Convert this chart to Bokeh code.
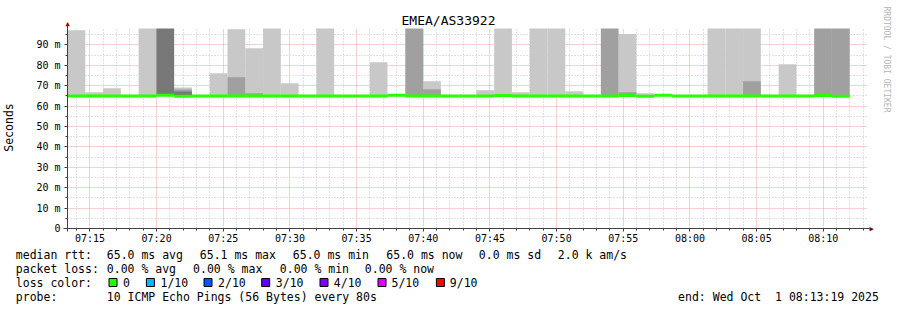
import pandas as pd
from bokeh.plotting import figure
from bokeh.models import Range1d, FixedTicker, DatetimeTickFormatter, Grid
from bokeh.embed import file_html
from bokeh.resources import INLINE
from bokeh.core.properties import value

# ---------------- data ----------------
title_text = "EMEA/AS33922"
day = "2025-10-01"
start_time = "07:13:19"
end_time = "08:13:19"
step_seconds = 80
n_steps = 45

# median rtt per 80 s step (ms); None = no data
median_ms = [65.0, 65.0, 65.0, 65.0, 65.0, 65.3, 64.8, 65.0, 65.0, 65.0,
             65.0, 65.0, 65.0, 65.0, 65.0, 65.0, 65.0, 65.0, 65.3, 65.0,
             65.0, 65.0, 65.0, 65.0, 65.2, 65.0, 65.0, 65.0, 65.0, 65.0,
             65.0, 65.2, 64.8, 65.3, 65.0, 65.0, 65.0, 65.0, 65.0, 65.0,
             65.0, 65.0, 65.2, 64.8, None]
# smoke (ping spread) tops per step, three shades (ms); None = no band
smoke_outer = [97.2, 66.8, 68.8, None, 98.2, None, 69.1, None, 76.1, 97.7,
               88.4, 98.2, 71.2, None, 98.2, None, None, 81.5, None, None,
               72.2, None, None, 67.8, 98.2, 66.8, 98.2, 98.2, 67.3, None,
               None, 95.4, 66.3, None, None, None, 98.2, 98.2, 98.2, None,
               80.5, None, None, None, None]
smoke_middle = [None, None, None, None, None, None, 68.1, None, None, 74.2,
                66.3, None, None, None, None, None, None, None, None, 98.2,
                68.3, None, None, None, None, None, None, None, None, None,
                98.2, 66.8, None, None, None, None, None, None, 72.2, None,
                None, None, 98.2, 98.2, None]
smoke_inner = [None, None, None, None, None, 98.2, 67.2, None, None, None,
               None, None, None, None, None, None, None, None, None, None,
               None, None, None, None, None, None, None, None, None, None,
               None, None, None, None, None, None, None, None, None, None,
               None, None, None, None, None]
smoke_base = 65.0

x_tick_labels = ["07:15", "07:20", "07:25", "07:30", "07:35", "07:40", "07:45",
                 "07:50", "07:55", "08:00", "08:05", "08:10"]
y_ticks = [0, 10, 20, 30, 40, 50, 60, 70, 80, 90]
y_tick_labels = ["0", "10 m", "20 m", "30 m", "40 m", "50 m", "60 m", "70 m", "80 m", "90 m"]
y_max = 98.04

loss_colors = ["#26ff00", "#00b8ff", "#0059ff", "#5e00ff", "#7e00ff", "#dd00ff", "#ff0000"]
loss_labels = ["0", "1/10", "2/10", "3/10", "4/10", "5/10", "9/10"]

rtt_line = [("median rtt:", 16), ("65.0 ms avg", 107), ("65.1 ms max", 200),
            ("65.0 ms min", 293), ("65.0 ms now", 386.5), ("0.0 ms sd", 479),
            ("2.0 k am/s", 558)]
loss_line = [("packet loss:", 16), ("0.00 % avg", 107), ("0.00 % max", 193.3),
             ("0.00 % min", 280), ("0.00 % now", 365)]
probe_text = "10 ICMP Echo Pings (56 Bytes) every 80s"
end_text = "end: Wed Oct\u00a0 1 08:13:19 2025"

# ---------------- geometry ----------------
def ms(t):
    return pd.Timestamp(f"{day} {t}").value / 1e6

t0 = ms(start_time)
t1 = ms(end_time)
lefts = [t0 + i * step_seconds * 1000 for i in range(n_steps)]
rights = [l + step_seconds * 1000 for l in lefts]

FONT = "DejaVu Sans Mono"
W, H = 897, 310
L, R, T, B = 67, 867, 28, 228   # chart area in canvas pixels
xs = (t1 - t0) / (R - L)         # ms per pixel
ys = y_max / (B - T)             # value per pixel

def px_x(px):
    return t0 + (px - L) * xs

def px_y(py):
    return (B - py) * ys

p = figure(width=W, height=H, x_axis_type="datetime",
           x_range=Range1d(px_x(0), px_x(W)), y_range=Range1d(px_y(H), px_y(0)),
           output_backend="svg", toolbar_location=None, min_border=0)
p.outline_line_color = None
p.background_fill_color = "white"
p.border_fill_color = "white"

x_major = [ms(lbl + ":00") for lbl in x_tick_labels]
x_minor = []
m = pd.Timestamp(f"{day} 07:14:00")
while m <= pd.Timestamp(f"{day} 08:13:00"):
    v = m.value / 1e6
    if v not in x_major:
        x_minor.append(v)
    m += pd.Timedelta(minutes=1)
y_minor = [t + 5 for t in y_ticks]

xaxis = p.xaxis[0]
yaxis = p.yaxis[0]
xaxis.fixed_location = 0
yaxis.fixed_location = t0
xaxis.bounds = (px_x(63), px_x(869))
yaxis.bounds = (px_y(231), px_y(23))
xaxis.ticker = FixedTicker(ticks=x_major, minor_ticks=x_minor)
xaxis.formatter = DatetimeTickFormatter(minutes="%H:%M", hourmin="%H:%M",
                                        hours="%H:%M", seconds="%H:%M",
                                        minsec="%H:%M")
yaxis.ticker = FixedTicker(ticks=y_ticks, minor_ticks=y_minor)
yaxis.major_label_overrides = {t: l for t, l in zip(y_ticks, y_tick_labels)}

for ax in (xaxis, yaxis):
    ax.axis_line_color = "#404040"
    ax.major_tick_line_color = "#404040"
    ax.minor_tick_line_color = "#404040"
    ax.major_tick_in = 0
    ax.major_tick_out = 3
    ax.minor_tick_in = 0
    ax.minor_tick_out = 2
    ax.major_label_text_font = FONT
    ax.major_label_text_font_size = "10px"
    ax.major_label_text_color = "black"
xaxis.major_label_standoff = 1
yaxis.major_label_standoff = 4
yaxis.axis_label = "Seconds"
yaxis.axis_label_text_font = FONT
yaxis.axis_label_text_font_size = "11.5px"
yaxis.axis_label_text_font_style = "normal"
yaxis.axis_label_text_color = "black"
yaxis.axis_label_standoff = 17

major_c, minor_c = "#eda3a3", "#c4c4c4"
has_cb = "cross_bounds" in Grid.properties()
if has_cb:
    for g in (p.xgrid[0], p.ygrid[0]):
        g.grid_line_color = major_c
        g.grid_line_dash = "1 1"
        g.minor_grid_line_color = minor_c
        g.minor_grid_line_dash = "1 2"
    p.xgrid[0].bounds = (t0, t1)
    p.xgrid[0].cross_bounds = (0, y_max)
    p.ygrid[0].bounds = (0, y_max)
    p.ygrid[0].cross_bounds = (t0, t1)
else:
    p.grid.visible = False
    p.segment(x0=x_minor, x1=x_minor, y0=0, y1=y_max, line_color=minor_c,
              line_dash="1 2", level="underlay")
    p.segment(x0=t0, x1=t1, y0=y_minor, y1=y_minor, line_color=minor_c,
              line_dash="1 2", level="underlay")
    p.segment(x0=x_major, x1=x_major, y0=0, y1=y_max, line_color=major_c,
              line_dash="1 1", level="underlay")
    p.segment(x0=t0, x1=t1, y0=y_ticks[1:], y1=y_ticks[1:], line_color=major_c,
              line_dash="1 1", level="underlay")

def bands(tops, color):
    xs0, xs1, yt = [], [], []
    for l, r, top in zip(lefts, rights, tops):
        if top is not None:
            xs0.append(l); xs1.append(r); yt.append(min(top, y_max))
    p.quad(left=xs0, right=xs1, bottom=smoke_base, top=yt, fill_color=color,
           line_color=None)

bands(smoke_outer, "#c8c8c8")
bands(smoke_middle, "#a0a0a0")
bands(smoke_inner, "#787878")

mx0, mx1, my = [], [], []
for l, r, v in zip(lefts, rights, median_ms):
    if v is not None:
        mx0.append(l); mx1.append(r); my.append(v)
p.segment(x0=mx0, x1=mx1, y0=my, y1=my, line_color="#26ff00", line_width=3,
          line_cap="butt")

def txt(x, y, t, size="11.5px", align="left", color="black", angle=0):
    p.text(x=[px_x(x)], y=[px_y(y)], text=[t], text_font=value(FONT),
           text_font_size=size, text_align=align, text_baseline="middle",
           text_color=color, angle=angle)

txt(448, 20, title_text, size="13px", align="center")
txt(886, 59, "RRDTOOL / TOBI OETIKER", size="8px", align="center",
    color="#b4b4b4", angle=-1.5708)
txt(67, 23, "▲", size="7px", align="center", color="#7f0000")
txt(871, 228, "▶", size="7px", align="center", color="#7f0000")

for t, x in rtt_line:
    txt(x - 0.7, 254, t)
for t, x in loss_line:
    txt(x - 0.7, 268.3, t)
txt(16 - 0.7, 282.3, "loss color:")
box_x = [108.3, 145.7, 203.3, 261, 319.3, 377.3, 435.7]
lab_x = [123.3, 160.7, 218.3, 276, 334, 391.7, 450]
for t, x in zip(loss_labels, lab_x):
    txt(x - 0.7, 282.3, t)
p.rect(x=[px_x(b + 4.2) for b in box_x], y=px_y(282), width=8 * xs,
       height=8 * ys, fill_color=loss_colors, line_color="black", line_width=1)
txt(16 - 0.7, 296.7, "probe:")
txt(107 - 0.7, 296.7, probe_text)
txt(678.3 - 0.7, 296.7, end_text)

open("out.html", "w").write(file_html(p, INLINE))
